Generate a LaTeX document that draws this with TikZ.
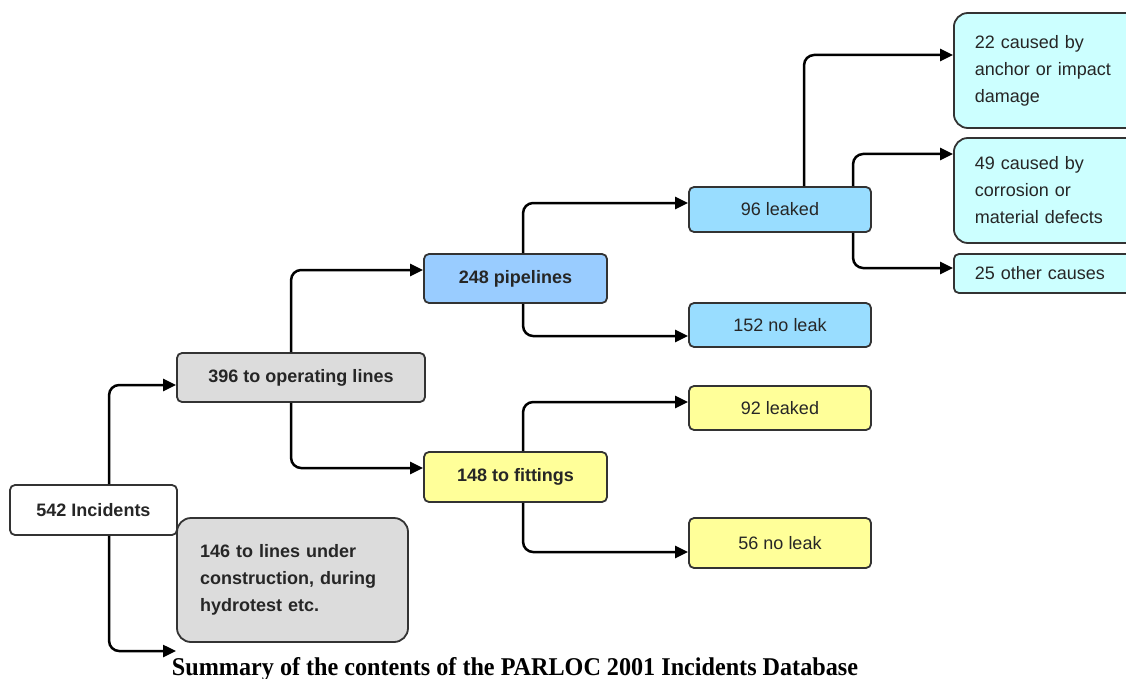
\documentclass[tikz,border=0pt]{standalone}
\usepackage{fontspec}
\setmainfont{Liberation Sans}
\newfontfamily\capfont{Liberation Serif}
\usetikzlibrary{arrows.meta,calc}
\definecolor{boxgray}{HTML}{DCDCDC}
\definecolor{pipeblue}{HTML}{99CCFF}
\definecolor{leakblue}{HTML}{99DDFF}
\definecolor{fityellow}{HTML}{FFFF99}
\definecolor{causecyan}{HTML}{CCFFFF}
\definecolor{edge}{HTML}{333333}
\tikzset{
  box/.style={draw=edge, line width=1.8pt, rounded corners=5pt, inner sep=0pt,
    font=\fontsize{18}{27}\selectfont, text=black!85},
  bigbox/.style={box, rounded corners=14pt, align=left},
  bold/.style={font=\fontsize{18}{27}\selectfont\bfseries},
  conn/.style={line width=2.5pt, rounded corners=10pt,
    -{Triangle[length=13pt,width=12pt]}}
}
\begin{document}
\begin{tikzpicture}[x=1pt,y=-1pt]
\useasboundingbox (0,0) rectangle (1126,679);
\clip (0,0) rectangle (1126,679);
% nodes
\node[box,bold,fill=white,minimum width=167,minimum height=50] (inc) at (93.5,510) {542 Incidents};
\node[box,bold,fill=boxgray,minimum width=248,minimum height=49] (op) at (301,377.5) {396 to operating lines};
\node[bigbox,bold,fill=boxgray,minimum width=231,minimum height=124,text width=185,inner xsep=23] (con) at (292.5,580) {146 to lines under\\construction, during\\hydrotest etc.};
\node[box,bold,fill=pipeblue,minimum width=183,minimum height=49] (pip) at (515.5,278.5) {248 pipelines};
\node[box,bold,fill=fityellow,minimum width=183,minimum height=50] (fit) at (515.5,477) {148 to fittings};
\node[box,fill=leakblue,minimum width=182,minimum height=45] (l96) at (780,209.5) {96 leaked};
\node[box,fill=leakblue,minimum width=182,minimum height=44] (n152) at (780,325) {152 no leak};
\node[box,fill=fityellow,minimum width=182,minimum height=44] (l92) at (780,408) {92 leaked};
\node[box,fill=fityellow,minimum width=182,minimum height=50] (n56) at (780,543) {56 no leak};
\node[bigbox,fill=causecyan,minimum height=115,text width=160,inner xsep=21,anchor=west] (c22) at (953,70.5) {22 caused by\\anchor or impact\\damage};
\node[bigbox,fill=causecyan,minimum height=105,text width=160,inner xsep=21,anchor=west] (c49) at (953,190.5) {49 caused by\\corrosion or\\material defects};
\node[box,fill=causecyan,minimum height=39,text width=160,inner xsep=21,align=left,anchor=west] (c25) at (953,273.5) {25 other causes};
% caption
\node[anchor=base,inner sep=0pt] (cap) at (515,675) {\resizebox{686pt}{18pt}{\capfont\bfseries Summary of the contents of the PARLOC 2001 Incidents Database}};
\coordinate (lowend) at (176,651);
% connectors
\draw[conn] ([xshift=100]inc.north west) |- ([yshift=-7.5]op.west);
\draw[conn] ([xshift=100]inc.south west) |- (lowend);
\draw[conn] ([xshift=115]op.north west) |- ([yshift=8.5]pip.west);
\draw[conn] ([xshift=115]op.south west) |- ([yshift=9]fit.west);
\draw[conn] ([xshift=100]pip.north west) |- ([yshift=6.5]l96.west);
\draw[conn] ([xshift=100]pip.south west) |- ([yshift=-11]n152.west);
\draw[conn] ([xshift=100]fit.north west) |- ([yshift=6]l92.west);
\draw[conn] ([xshift=100]fit.south west) |- ([yshift=-9]n56.west);
\draw[conn] ([xshift=116]l96.north west) |- ([yshift=15.5]c22.west);
\draw[conn] ([xshift=165]l96.north west) |- ([yshift=36.5]c49.west);
\draw[conn] ([xshift=165]l96.south west) |- ([yshift=5.5]c25.west);
\end{tikzpicture}
\end{document}
